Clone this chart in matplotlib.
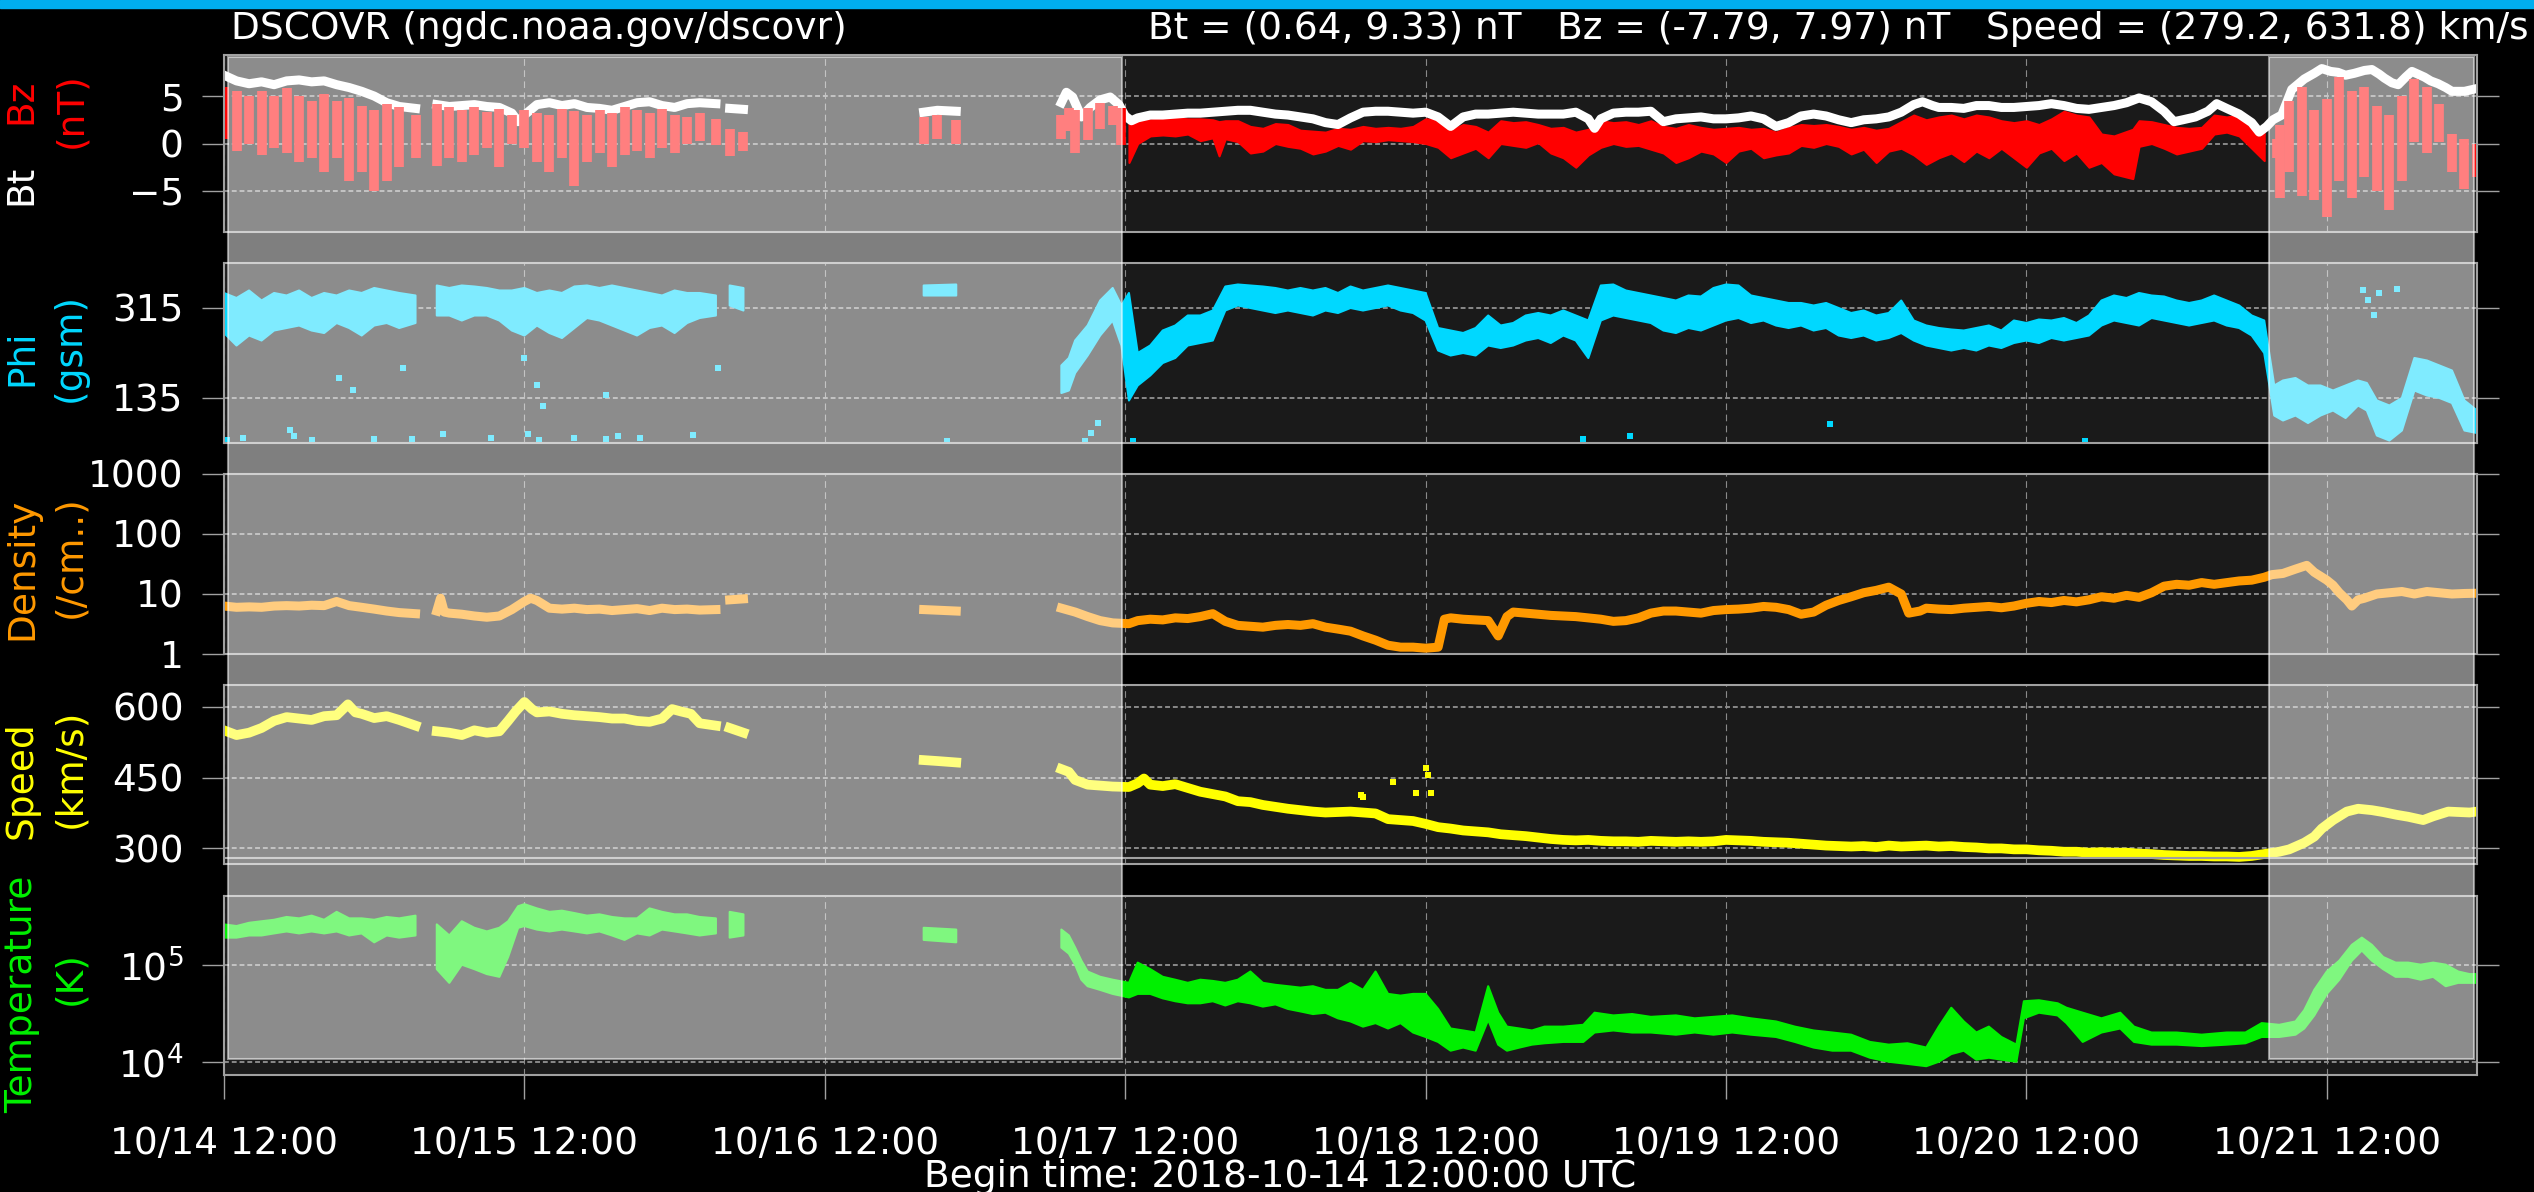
import numpy as np
import matplotlib
matplotlib.use("Agg")
import matplotlib.pyplot as plt
from matplotlib.patches import Rectangle
from matplotlib.ticker import NullLocator

nan = np.nan

# x axis: hours after 2018-10-14 12:00 UTC
tick_hours = [0, 24, 48, 72, 96, 120, 144, 168]
tick_labels = ["10/14 12:00", "10/15 12:00", "10/16 12:00", "10/17 12:00",
               "10/18 12:00", "10/19 12:00", "10/20 12:00", "10/21 12:00"]

# faded (gray) spans, hours
gray_spans = [(0, 72), (163.4, 180)]

# ---- Bt (nT)
bt_t = [0, 1, 2, 3, 4, 5, 6, 7, 8, 9, 10, 11, 12, 13, 14, 15.3, 16,
        17, 18, 19, 20, 21, 22, 23, 23.5, 24, 25, 26, 27, 28, 29, 30, 31, 32, 33, 34, 35, 36, 37, 38, 39.3, 40,
        40.4, 41.5, 50, 55.9, 57, 58.5, 62,
        66.9, 67.3, 67.8, 68.5, 69.2, 70, 70.8, 71.5, 72, 72.5, 73, 74, 75, 76, 77, 78, 79, 80, 81, 82, 83,
        84, 85, 86, 87, 88, 89, 90, 91, 92, 93, 94, 95, 96, 97, 98, 99, 100, 101, 102, 103, 104, 105, 106,
        107, 108, 109, 109.5, 110, 111, 112, 113, 114, 115, 116, 117, 118, 119, 120, 121, 122, 123, 124,
        125, 126, 127, 128, 129, 130, 131, 132, 133, 134, 135, 135.7, 136.5, 137, 138, 139, 140, 141, 142,
        143, 144, 145, 146, 147, 148, 149, 150, 151, 152, 153, 154, 155, 155.8, 156.5, 157.5, 158.5, 159.2,
        160, 161, 162, 162.6, 163.2, 163.7, 164.4, 165.2, 166.2, 167, 167.6, 168.3, 168.9, 169.5, 170.2,
        171, 171.6, 172.2, 172.6, 173.2, 173.7, 174.3, 174.8, 175.3, 175.8, 176.3, 176.9, 177.5, 178, 179, 180]
bt = [7.2, 6.6, 6.3, 6.5, 6.2, 6.6, 6.7, 6.5, 6.6, 6.2, 5.9, 5.5, 5.0, 4.3, 3.9, 3.7, nan,
      4.1, 3.9, 4.0, 4.1, 3.9, 3.8, 3.2, 2.3, 3.0, 4.1, 4.3, 4.0, 4.2, 3.8, 3.7, 3.5, 3.9, 4.3, 4.4, 4.0, 3.8, 4.2, 4.3, 4.2, nan,
      3.7, 3.6, nan, 3.3, 3.5, 3.4, nan,
      4.3, 5.4, 4.9, 2.8, 3.8, 4.6, 4.9, 4.1, 2.9, 2.4, 2.7, 3.0, 3.0, 3.1, 3.2, 3.2, 3.3, 3.4, 3.5, 3.5, 3.3,
      3.1, 3.0, 2.8, 2.6, 2.2, 2.0, 2.7, 3.3, 3.4, 3.4, 3.3, 3.2, 3.3, 2.8, 1.8, 2.8, 3.1, 3.1, 3.2, 3.3, 3.2, 3.1, 3.1,
      3.1, 3.3, 2.6, 1.6, 2.6, 3.2, 3.3, 3.3, 3.4, 2.3, 2.6, 2.7, 2.8, 2.6, 2.6, 2.7, 2.9, 2.6, 1.8,
      2.2, 2.9, 3.1, 2.9, 2.5, 2.2, 2.5, 2.6, 2.8, 3.3, 4.1, 4.4, 4.0, 3.8, 3.8, 3.7, 4.0, 4.0, 3.8,
      3.8, 3.9, 4.0, 4.2, 4.0, 3.7, 3.6, 3.8, 4.0, 4.3, 4.8, 4.4, 3.4, 2.3, 2.5, 2.8, 3.4, 4.2,
      3.7, 3.1, 2.2, 1.2, 1.8, 2.5, 3.0, 5.7, 6.8, 7.4, 7.9, 7.6, 7.5, 7.2, 7.4,
      7.7, 7.8, 7.3, 6.9, 6.4, 6.2, 7.0, 7.6, 7.3, 7.0, 6.6, 6.3, 5.9, 5.5, 5.5, 5.8]

# ---- Bz (nT): low / high edge of the trace
bz_t = [0, 1, 2, 3, 4, 5, 6, 7, 8, 9, 10, 11, 12, 13, 14, 15.3, 16,
        17, 18, 19, 20, 21, 22, 23, 24, 25, 26, 27, 28, 29, 30, 31, 32, 33, 34, 35, 36, 37, 38, 39.3, 40,
        40.4, 41.5, 50, 55.9, 57, 58.5, 62,
        66.9, 67.5, 68, 69, 70, 71, 71.7, 72.3, 73, 74, 75, 76, 77, 78, 79, 79.5, 80, 81, 82, 83, 84, 85,
        86, 87, 88, 89, 90, 91, 92, 93, 94, 95, 96, 97, 98, 99, 100, 101, 102, 103, 104, 105, 106, 107,
        108, 109, 110, 111, 112, 113, 114, 115, 116, 117, 118, 119, 120, 121, 122, 123, 124, 125, 126,
        127, 128, 129, 130, 131, 132, 133, 134, 135, 136, 137, 138, 139, 140, 141, 142, 143, 144, 145,
        146, 147, 148, 149, 150, 151, 152.5, 153, 154, 155, 156, 157, 158, 159, 160, 161, 162, 163, 164,
        164.3, 165, 166, 167, 168, 169, 170, 171, 172, 173, 174, 175, 176, 177, 178, 179, 180]
bz_lo = [0.5, -0.8, 0.0, -1.2, -0.5, -1.0, -2.0, -1.5, -3.0, -1.5, -4.0, -3.0, -5.0, -4.0, -2.5, -1.5, nan,
         -2.4, -1.5, -2.0, -1.2, -0.5, -2.5, 0.0, -0.5, -2.0, -3.0, -1.5, -4.5, -2.0, -1.0, -2.5, -1.2, -0.8,
         -1.5, -0.5, -1.0, 0.0, 0.3, -0.2, nan,
         -1.3, -0.8, nan, -0.1, 0.5, 0.0, nan,
         0.5, 1.3, -1.0, 0.4, 1.5, 2.0, -0.2, -2.0, 0.0, 0.8, 0.9, 0.8, 1.0, 0.3, 0.6, -1.3, 0.5, 0.2, -1.0,
         -0.8, 0.0, -0.3, -0.5, -1.1, -0.8, -0.2, -0.6, 0.3, 0.2, 0.4, 0.3, 0.2, 0.0, -0.4, -1.5, -1.0,
         -0.5, -1.5, 0.0, -0.2, -0.4, 0.1, -1.0, -1.5, -2.5, -1.2, -0.4, 0.0, -0.3, -0.2, -0.6, -1.0,
         -2.0, -1.5, -0.8, -1.1, -2.0, -0.8, -0.5, -1.5, -1.2, -1.0, -0.2, -0.4, 0.0, -0.3, -1.1, -0.6,
         -2.0, -0.8, -0.5, -1.2, -2.2, -1.5, -1.0, -1.9, -0.8, -1.5, -0.5, -1.5, -2.5, -1.0, -0.5, -1.8,
         -1.0, -2.5, -2.0, -3.2, -3.7, -0.3, 0.0, -0.5, -1.1, -0.8, -0.5, 1.0, 1.2, 0.8, -0.5, -1.8, -1.5,
         -5.7, -3.0, -5.5, -6.0, -7.7, -4.0, -5.7, -3.5, -5.0, -7.0, -4.0, 0.2, -1.0, 0.2, -3.0, -4.8, -3.5]
bz_hi = [6.0, 5.5, 5.0, 5.5, 5.0, 5.8, 5.0, 4.5, 5.2, 4.5, 4.8, 4.0, 3.5, 4.2, 3.8, 3.0, nan,
         4.2, 3.8, 3.5, 3.8, 3.3, 3.6, 3.0, 3.5, 3.2, 3.0, 3.6, 3.4, 3.0, 3.5, 3.2, 3.8, 3.5, 3.2, 3.6,
         3.0, 2.8, 3.2, 2.6, nan,
         1.5, 1.2, nan, 2.8, 3.0, 2.5, nan,
         3.0, 3.7, 3.5, 3.7, 4.3, 4.0, 3.7, 2.6, 2.4, 2.5, 2.6, 2.7, 2.6, 2.6, 2.5, 2.3, 2.4, 2.4, 1.8,
         1.6, 2.1, 2.0, 1.4, 1.3, 1.2, 1.6, 1.5, 1.8, 1.6, 1.7, 1.6, 1.8, 2.6, 2.5, 1.4, 2.0, 1.8, 1.2,
         2.4, 2.2, 2.3, 2.0, 1.6, 1.7, 1.2, 1.5, 2.4, 2.2, 2.3, 2.0, 2.4, 1.8, 1.6, 2.0, 1.7, 1.5, 1.6,
         1.7, 1.5, 1.6, 1.2, 1.7, 2.0, 1.9, 2.0, 1.8, 1.5, 1.7, 1.4, 1.6, 2.3, 3.0, 2.5, 2.8, 3.0, 2.6,
         3.0, 2.8, 2.4, 2.2, 2.4, 2.0, 2.6, 3.4, 3.0, 2.8, 1.0, 0.8, 1.5, 2.4, 2.3, 2.0, 1.7, 1.6, 1.7,
         3.0, 2.8, 3.0, 2.0, 1.3, 0.5,
         2.0, 4.5, 6.0, 3.5, 4.7, 7.0, 5.5, 6.0, 4.0, 3.0, 5.0, 6.8, 6.0, 4.2, 1.0, 0.5, 0.0]

# ---- Phi (deg, gsm): low / high edge
phi_t = [0, 1, 2, 3, 4, 5, 6, 7, 8, 9, 10, 11, 12, 13, 14, 15.3, 16,
         17, 18, 19, 20, 21, 22, 23, 24, 25, 26, 27, 28, 29, 30, 31, 32, 33, 34, 35, 36, 37, 38, 39.3, 40,
         40.4, 41.5, 50, 55.9, 58.5, 62,
         66.9, 67.5, 68, 69, 70, 71, 71.7, 72.3, 73, 74, 75, 76, 77, 78, 79, 80, 81, 82, 83, 84, 85, 86,
         87, 88, 89, 90, 91, 92, 93, 94, 95, 96, 97, 98, 99, 100, 101, 102, 103, 104, 105, 106, 107, 108,
         109, 110, 111, 112, 113, 114, 115, 116, 117, 118, 119, 120, 121, 122, 123, 124, 125, 126, 127,
         128, 129, 130, 131, 132, 133, 134, 135, 136, 137, 138, 139, 140, 141, 142, 143, 144, 145, 146,
         147, 148, 149, 150, 151, 152, 153, 154, 155, 156, 157, 158, 159, 160, 161, 162, 163, 163.8,
         164.5, 165.5, 166.5, 167.5, 168.5, 169.5, 170.5, 171.2, 172, 173, 174, 175, 176, 177, 178, 179, 180]
phi_lo = [265, 240, 260, 250, 270, 275, 280, 270, 265, 285, 275, 260, 280, 285, 275, 285, nan,
          300, 300, 290, 300, 300, 290, 270, 260, 280, 265, 255, 275, 295, 290, 280, 270, 260, 275, 280,
          265, 285, 295, 300, nan,
          320, 310, nan, 340, 340, nan,
          145, 150, 185, 220, 260, 290, 240, 130, 160, 180, 205, 215, 240, 245, 250, 310, 320, 315, 310,
          305, 310, 305, 300, 310, 305, 315, 310, 315, 320, 310, 305, 290, 230, 220, 225, 220, 240, 235,
          240, 250, 255, 245, 260, 250, 215, 290, 300, 295, 290, 285, 270, 265, 275, 270, 280, 290, 295,
          285, 290, 280, 275, 280, 270, 275, 260, 255, 260, 250, 255, 265, 250, 240, 235, 230, 235, 230,
          240, 235, 245, 250, 245, 255, 250, 255, 260, 280, 290, 285, 280, 295, 290, 285, 280, 285, 290,
          280, 275, 260, 225, 100, 90, 100, 85, 100, 110, 95, 120, 110, 60, 50, 70, 150, 140, 135, 125, 70, 65]
phi_hi = [345, 335, 350, 330, 345, 340, 350, 335, 345, 340, 350, 345, 355, 350, 345, 340, nan,
          360, 355, 360, 358, 355, 350, 350, 355, 345, 350, 345, 358, 360, 355, 360, 355, 350, 345, 340,
          350, 345, 345, 340, nan,
          360, 355, nan, 360, 362, nan,
          200, 215, 250, 280, 330, 355, 320, 345, 225, 240, 270, 280, 300, 300, 310, 358, 362, 360, 358,
          355, 350, 355, 350, 355, 345, 358, 350, 355, 360, 355, 350, 345, 275, 270, 265, 275, 300, 280,
          285, 300, 305, 300, 310, 300, 290, 360, 362, 350, 345, 340, 335, 330, 340, 338, 355, 362, 360,
          340, 335, 330, 325, 325, 320, 325, 315, 305, 310, 300, 305, 330, 290, 280, 275, 272, 270, 275,
          280, 270, 290, 285, 292, 290, 295, 285, 300, 330, 340, 335, 345, 340, 338, 330, 325, 330, 340,
          330, 320, 300, 290, 160, 170, 175, 160, 160, 150, 160, 170, 165, 130, 120, 135, 215, 210, 200, 190, 130, 110]
# scattered single Phi points
phi_pts_t = [0.2, 1.5, 5.3, 5.6, 7.0, 9.2, 10.3, 12, 14.3, 15, 17.5, 21.3, 24.0, 24.3, 25.0, 25.2, 25.5,
             28, 30.5, 30.5, 31.5, 33.2, 37.5, 39.5, 57.8, 68.8, 69.3, 69.8, 72.6, 108.6, 112.3, 128.3,
             148.7, 170.9, 171.3, 171.8, 172.2, 173.6]
phi_pts = [50, 55, 70, 58, 50, 175, 150, 52, 195, 52, 62, 55, 215, 62, 160, 50, 118,
           55, 52, 140, 58, 55, 60, 195, 48, 48, 65, 85, 48, 52, 58, 82,
           48, 350, 330, 300, 345, 352]

# ---- Density (/cm3)
dens_t = [0, 1, 2, 3, 4, 5, 6, 7, 8, 9, 10, 11, 12, 13, 14, 15.3, 16,
          17, 17.3, 17.6, 18, 19, 20, 21, 22, 23, 24, 24.5, 25, 26, 27, 28, 29, 30, 31, 32, 33, 34, 35, 36,
          37, 38, 39.3, 40, 40.4, 41.5, 50, 55.9, 58.5, 62,
          66.9, 68, 69, 70, 71, 72.3, 73, 74, 75, 76, 77, 78, 79, 80, 81, 82, 83, 84, 85, 86, 87, 88, 89,
          90, 91, 92, 93, 94, 95, 96, 97, 97.5, 98, 99, 100, 101, 101.8, 102.5, 103, 104, 105, 106, 107,
          108, 109, 110, 111, 112, 113, 114, 115, 116, 117, 118, 119, 120, 121, 122, 123, 124, 125, 126,
          127, 128, 129, 130, 131, 132, 133, 134, 134.6, 135.5, 136, 137, 138, 139, 140, 141, 142, 143,
          144, 145, 146, 147, 148, 149, 150, 151, 152, 153, 154, 155, 156, 157, 158, 159, 160, 161, 162,
          163, 163.6, 164.5, 165.5, 166.4, 167, 168, 168.5, 169, 169.6, 170, 170.5, 171, 172, 173, 174,
          175, 176, 177, 178, 179, 180]
dens = [6.3, 6.0, 6.1, 6.0, 6.3, 6.4, 6.3, 6.5, 6.4, 7.5, 6.4, 6.0, 5.6, 5.2, 4.9, 4.7, nan,
        5.2, 8.5, 5.0, 4.8, 4.6, 4.3, 4.1, 4.3, 5.5, 7.5, 8.5, 7.8, 5.8, 5.6, 5.8, 5.5, 5.6, 5.3, 5.5, 5.7,
        5.3, 5.8, 5.5, 5.6, 5.4, 5.5, nan, 8.0, 8.3, nan, 5.5, 5.2, nan,
        5.8, 5.0, 4.2, 3.6, 3.3, 3.2, 3.6, 3.8, 3.7, 4.0, 3.9, 4.2, 4.7, 3.5, 3.0, 2.9, 2.8, 3.0, 3.1,
        3.0, 3.2, 2.8, 2.6, 2.4, 2.0, 1.7, 1.4, 1.3, 1.3, 1.25, 1.3, 3.8, 4.0, 3.8, 3.7, 3.6, 2.0, 4.2,
        5.0, 4.8, 4.6, 4.4, 4.3, 4.2, 4.0, 3.8, 3.5, 3.6, 4.0, 4.8, 5.2, 5.2, 5.0, 4.8, 5.3, 5.5, 5.6,
        5.8, 6.2, 6.0, 5.5, 4.6, 5.0, 6.5, 7.8, 9.0, 10.5, 11.5, 13.0, 10.0, 4.8, 5.2, 5.8, 5.6, 5.5,
        5.8, 6.0, 6.2, 5.9, 6.3, 7.0, 7.5, 7.2, 7.8, 7.4, 8.0, 9.0, 8.5, 9.5, 8.8, 10.5, 13.5, 14.5,
        14.0, 15.5, 14.5, 15.5, 16.5, 17.0, 19.0, 21.0, 22.0, 26.0, 30.0, 23.0, 17.0, 14.0, 10.5, 8.0,
        6.3, 8.0, 8.5, 10.0, 10.5, 11.0, 10.0, 11.0, 10.5, 10.0, 10.2, 10.3]

# ---- Speed (km/s)
spd_t = [0, 1, 2, 3, 4, 5, 6, 7, 8, 9, 9.9, 10.5, 11, 12, 13, 14, 15.3, 16,
         17, 18, 19, 20, 21, 22, 22.7, 23.3, 24, 24.6, 25, 26, 27, 28, 29, 30, 31, 32, 33, 34, 35, 35.8,
         36.5, 37.3, 38, 39.3, 40, 40.4, 41.5, 50, 55.9, 57, 58.5, 62,
         66.9, 67.5, 68, 69, 70, 71, 72.3, 73, 73.5, 74, 75, 76, 77, 78, 79, 80, 81, 82, 83, 84, 85, 86,
         87, 88, 89, 90, 91, 92, 93, 94, 95, 96, 97, 98, 99, 100, 101, 102, 103, 104, 105, 106, 107, 108,
         109, 110, 111, 112, 113, 114, 115, 116, 117, 118, 119, 120, 121, 122, 123, 124, 125, 126, 127,
         128, 129, 130, 131, 132, 133, 134, 135, 136, 137, 138, 139, 140, 141, 142, 143, 144, 145, 146,
         147, 148, 149, 150, 151, 152, 153, 154, 155, 156, 157, 158, 159, 160, 161, 162, 163, 164.2, 165,
         166.2, 167, 167.6, 168.5, 169.6, 170.5, 171.6, 172.5, 173.6, 174.5, 175.7, 176.5, 177.7, 178.5,
         179.4, 180]
spd = [550, 540, 545, 555, 570, 578, 575, 572, 580, 582, 605, 588, 585, 576, 580, 572, 560, nan,
       548, 545, 540, 550, 545, 548, 570, 590, 610, 595, 588, 590, 585, 582, 580, 578, 575, 575, 570, 568,
       575, 595, 590, 585, 565, 560, nan, 555, 545, nan, 487, 485, 482, nan,
       468, 462, 445, 435, 433, 431, 430, 438, 448, 435, 432, 436, 428, 420, 415, 410, 400, 398, 392, 388,
       384, 381, 378, 376, 377, 378, 376, 374, 362, 360, 358, 352, 345, 342, 338, 336, 334, 330, 328, 326,
       323, 320, 318, 317, 318, 316, 315, 315, 314, 316, 315, 314, 315, 314, 315, 318, 317, 316, 314, 313,
       312, 310, 308, 306, 305, 304, 305, 303, 306, 304, 305, 306, 304, 305, 303, 302, 300, 300, 298, 298,
       296, 295, 293, 293, 291, 292, 291, 291, 289, 288, 286, 285, 284, 284, 283, 283, 282, 284, 288, 293,
       298, 312, 325, 342, 360, 378, 384, 381, 377, 371, 367, 360, 368, 378, 377, 376, 378]
spd_pts_t = [90.8, 91.0, 93.4, 95.2, 96.0, 96.2, 96.4]
spd_pts = [413, 408, 440, 418, 470, 455, 418]

# ---- Temperature (K): low / high edge
temp_t = [0, 1, 2, 3, 4, 5, 6, 7, 8, 9, 10, 11, 12, 13, 14, 15.3, 16,
          17, 18, 19, 20, 21, 22, 22.7, 23.5, 24, 25, 26, 27, 28, 29, 30, 31, 32, 33, 34, 35, 36, 37, 38,
          39.3, 40, 40.4, 41.5, 50, 55.9, 58.5, 62,
          66.9, 67.5, 68, 68.5, 69, 70, 71, 72.3, 73, 74, 75, 76, 77, 78, 79, 80, 81, 82, 83, 84, 85, 86,
          87, 88, 89, 90, 91, 92, 93, 94, 95, 96, 97, 98, 99, 100, 101, 101.8, 102.5, 103.5, 104.5, 105.5,
          107, 108.6, 109.5, 111, 112.5, 114, 116, 117.5, 119, 120.5, 122, 124, 125.5, 127, 128.5, 130,
          131.5, 133, 134.5, 136, 137, 138, 139, 140, 141, 142, 143.2, 143.8, 145, 146.5, 147.2, 148.5,
          150, 151.5, 152.6, 154, 156, 158, 160, 161.5, 162.8, 164.2, 165.5, 166.2, 167, 168, 169, 170,
          170.8, 171.6, 172.5, 173.5, 174.5, 175.5, 176.5, 177.5, 178.5, 179.4, 180]
temp_lo = [1.9e5, 1.9e5, 2.0e5, 2.0e5, 2.1e5, 2.2e5, 2.1e5, 2.2e5, 2.1e5, 2.2e5, 2.0e5, 2.1e5, 1.7e5,
           2.0e5, 1.9e5, 2.0e5, nan,
           9.0e4, 6.5e4, 1.0e5, 9.0e4, 8.0e4, 7.5e4, 1.2e5, 2.4e5, 2.5e5, 2.3e5, 2.2e5, 2.3e5, 2.2e5,
           2.1e5, 2.2e5, 2.0e5, 1.8e5, 2.1e5, 2.0e5, 2.3e5, 2.2e5, 2.1e5, 2.0e5, 2.1e5, nan,
           1.9e5, 2.0e5, nan, 1.8e5, 1.7e5, nan,
           1.5e5, 1.3e5, 1.0e5, 7.0e4, 6.0e4, 5.5e4, 5.0e4, 4.6e4, 5.0e4, 5.0e4, 4.5e4, 4.2e4, 4.0e4,
           4.0e4, 4.2e4, 3.8e4, 4.2e4, 4.0e4, 3.7e4, 3.9e4, 3.5e4, 3.3e4, 3.1e4, 3.2e4, 2.8e4, 2.6e4,
           2.3e4, 2.5e4, 2.2e4, 2.5e4, 2.0e4, 1.8e4, 1.6e4, 1.3e4, 1.4e4, 1.3e4, 2.7e4, 1.5e4, 1.3e4,
           1.4e4, 1.5e4, 1.55e4, 1.6e4, 1.6e4, 2.0e4, 2.1e4, 2.0e4, 2.0e4, 1.9e4, 2.0e4, 1.9e4, 2.0e4,
           1.9e4, 1.8e4, 1.6e4, 1.4e4, 1.3e4, 1.3e4, 1.1e4, 1.0e4, 9.5e3, 9.0e3, 1.0e4, 1.2e4, 1.3e4,
           1.05e4, 1.1e4, 1.05e4, 1.0e4, 2.8e4, 3.2e4, 3.0e4, 2.5e4, 1.6e4, 2.0e4, 2.2e4, 1.6e4, 1.5e4,
           1.5e4, 1.45e4, 1.5e4, 1.55e4, 1.8e4, 1.8e4, 1.9e4, 2.2e4, 3.0e4, 5.0e4, 7.0e4, 1.1e5, 1.4e5,
           1.1e5, 9.0e4, 7.5e4, 7.5e4, 7.0e4, 7.5e4, 6.0e4, 6.5e4, 6.5e4, 6.5e4]
temp_hi = [2.6e5, 2.5e5, 2.7e5, 2.8e5, 2.9e5, 3.1e5, 3.0e5, 3.2e5, 2.9e5, 3.5e5, 3.0e5, 3.0e5, 2.9e5,
           3.1e5, 3.0e5, 3.2e5, nan,
           2.6e5, 2.0e5, 2.8e5, 2.4e5, 2.2e5, 2.4e5, 2.8e5, 4.0e5, 4.2e5, 3.8e5, 3.5e5, 3.6e5, 3.4e5,
           3.2e5, 3.3e5, 3.1e5, 3.0e5, 3.0e5, 3.8e5, 3.5e5, 3.3e5, 3.3e5, 3.1e5, 3.0e5, nan,
           3.5e5, 3.3e5, nan, 2.4e5, 2.3e5, nan,
           2.3e5, 2.0e5, 1.5e5, 1.1e5, 8.5e4, 7.5e4, 7.0e4, 6.5e4, 1.05e5, 9.0e4, 7.5e4, 7.0e4, 6.5e4,
           7.0e4, 6.8e4, 6.5e4, 7.0e4, 8.5e4, 6.5e4, 6.2e4, 6.0e4, 5.8e4, 6.0e4, 5.5e4, 5.5e4, 6.5e4,
           5.5e4, 8.5e4, 5.0e4, 4.8e4, 5.0e4, 5.0e4, 3.5e4, 2.2e4, 2.1e4, 2.0e4, 6.0e4, 3.2e4, 2.3e4,
           2.2e4, 2.1e4, 2.3e4, 2.3e4, 2.4e4, 3.2e4, 3.0e4, 3.1e4, 2.9e4, 3.0e4, 2.8e4, 2.9e4, 3.0e4,
           2.8e4, 2.6e4, 2.3e4, 2.1e4, 2.0e4, 1.9e4, 1.6e4, 1.5e4, 1.55e4, 1.4e4, 2.3e4, 3.6e4, 2.6e4,
           2.0e4, 2.3e4, 1.8e4, 1.5e4, 4.2e4, 4.3e4, 4.0e4, 3.6e4, 3.2e4, 2.8e4, 3.2e4, 2.3e4, 2.0e4,
           2.0e4, 1.9e4, 2.0e4, 2.0e4, 2.5e4, 2.4e4, 2.6e4, 3.4e4, 5.5e4, 8.5e4, 1.1e5, 1.6e5, 1.9e5,
           1.6e5, 1.2e5, 1.05e5, 1.05e5, 1.0e5, 1.05e5, 1.0e5, 8.5e4, 8.0e4, 8.0e4]

W, H = 2534, 1192
AX_L, AX_R = 224, 2477          # pixel columns of the plot area
SPINE = "#a0a0a0"
FS = 27
plt.rcParams["font.family"] = ["DejaVu Sans"]

fig = plt.figure(figsize=(W / 100, H / 100), dpi=100, facecolor="black")


def add_panel(top, bottom):
    """Axes placed by pixel rows of the figure."""
    ax = fig.add_axes([AX_L / W, 1 - bottom / H, (AX_R - AX_L) / W, (bottom - top) / H])
    ax.set_facecolor("#1a1a1a")
    for s in ax.spines.values():
        s.set_color(SPINE)
        s.set_linewidth(1.5)
    ax.set_xlim(0, 180)
    ax.set_xticks(tick_hours)
    ax.tick_params(axis="x", length=0, labelbottom=False)
    ax.tick_params(axis="y", which="major", direction="out", length=16, width=1, color=SPINE,
                   labelsize=FS, labelcolor="white", pad=13, left=True, right=True)
    ax.tick_params(axis="y", which="minor", length=0)
    ax.grid(axis="x", color="#8a8a8a", linestyle=(0, (6, 4)), linewidth=0.8)
    ax.grid(axis="y", color="#8a8a8a", linestyle=(0, (2.5, 1.5)), linewidth=1.4)
    ax.set_axisbelow(True)
    return ax


def in_gray(t):
    t = np.asarray(t, float)
    m = np.zeros(t.shape, bool)
    for h0, h1 in gray_spans:
        m |= (t >= h0) & (t <= h1)
    return m


ax1 = add_panel(55, 232)
ax2 = add_panel(263, 443)
ax3 = add_panel(474, 654)
ax4 = add_panel(685, 864)
ax5 = add_panel(896, 1075)

# Bt / Bz; scattered Bz inside the faded spans drawn as streaks
ax1.plot(bt_t, bt, color="white", lw=6.5, solid_joinstyle="round")
bz_t_a = np.asarray(bz_t, float)
g = in_gray(bz_t_a)
ax1.fill_between(bz_t_a, bz_lo, bz_hi, where=~g | (np.abs(bz_t_a - 72.3) < 0.01),
                 color="#ff0000", lw=1.5)
ax1.vlines(bz_t_a[g], np.asarray(bz_lo)[g], np.asarray(bz_hi)[g], color="#ff0000", lw=7)
ax1.set_ylim(-9.33, 9.33)
ax1.set_yticks([-5, 0, 5])

# Phi
ax2.fill_between(phi_t, phi_lo, phi_hi, color="#00d8ff", lw=1.5)
ax2.scatter(phi_pts_t, phi_pts, s=14, marker="s", color="#00d8ff", lw=0)
ax2.set_ylim(45, 405)
ax2.set_yticks([135, 315])

# Density
ax3.plot(dens_t, dens, color="#ff9900", lw=6.5, solid_joinstyle="round")
ax3.set_yscale("log")
ax3.set_ylim(1, 1000)
ax3.set_yticks([1, 10, 100, 1000])
ax3.set_yticklabels(["1", "10", "100", "1000"])
ax3.yaxis.set_minor_locator(NullLocator())

# Speed
ax4.plot(spd_t, spd, color="#ffff00", lw=7, solid_joinstyle="round")
ax4.scatter(spd_pts_t, spd_pts, s=16, marker="s", color="#ffff00", lw=0)
ax4.axhline(279.2, color=SPINE, lw=1.5)
ax4.set_ylim(267, 646)
ax4.set_yticks([300, 450, 600])

# Temperature
ax5.fill_between(temp_t, temp_lo, temp_hi, color="#00f000", lw=1.5)
ax5.set_yscale("log")
ax5.set_ylim(7.3e3, 5.1e5)
ax5.set_yticks([1e4, 1e5])
ax5.yaxis.set_minor_locator(NullLocator())
ax5.tick_params(axis="x", length=17, width=1, color=SPINE, direction="out",
                labelbottom=True, labelsize=FS, labelcolor="white", pad=20)
ax5.set_xticklabels(tick_labels)

# faded spans over all panels
px_per_h = (AX_R - AX_L) / 180
for h0, h1 in gray_spans:
    x0 = AX_L + h0 * px_per_h + (4 if h0 == 0 else 0)
    x1 = AX_L + h1 * px_per_h - 3
    fig.add_artist(Rectangle((x0 / W, 1 - 1059 / H), (x1 - x0) / W, (1059 - 57) / H,
                             transform=fig.transFigure, facecolor="white", edgecolor="white",
                             lw=1.5, alpha=0.5, zorder=5))

# top strip
fig.add_artist(Rectangle((0, 1 - 8 / H), 1, 8 / H, transform=fig.transFigure,
                         color="#00aeef", zorder=6))

# titles
fig.text(231 / W, 1 - 29 / H, "DSCOVR (ngdc.noaa.gov/dscovr)", color="white",
         fontsize=FS, ha="left", va="center")
fig.text(2529 / W, 1 - 29 / H,
         "Bt = (0.64, 9.33) nT   Bz = (-7.79, 7.97) nT   Speed = (279.2, 631.8) km/s",
         color="white", fontsize=FS, ha="right", va="center")
fig.text(0.505, 1 - 1177 / H, "Begin time: 2018-10-14 12:00:00 UTC", color="white",
         fontsize=FS, ha="center", va="center")

# y labels (two columns, rotated)
ylabels = [
    (21, 101, "Bz", "#ff0000"), (21, 185, "Bt", "white"), (71, 110, "(nT)", "#ff0000"),
    (22, 358, "Phi", "#00d8ff"), (70, 347, "(gsm)", "#00d8ff"),
    (22, 569, "Density", "#ff9900"), (70, 557, "(/cm..)", "#ff9900"),
    (22, 780, "Speed", "#ffff00"), (70, 768, "(km/s)", "#ffff00"),
    (22, 994, "Temperature", "#00f000"), (70, 978, "(K)", "#00f000"),
]
for x, y, s, c in ylabels:
    fig.text(x / W, 1 - y / H, s, color=c, fontsize=FS, rotation=90, ha="center", va="center")

fig.savefig("out.png", dpi=100, facecolor="black")
